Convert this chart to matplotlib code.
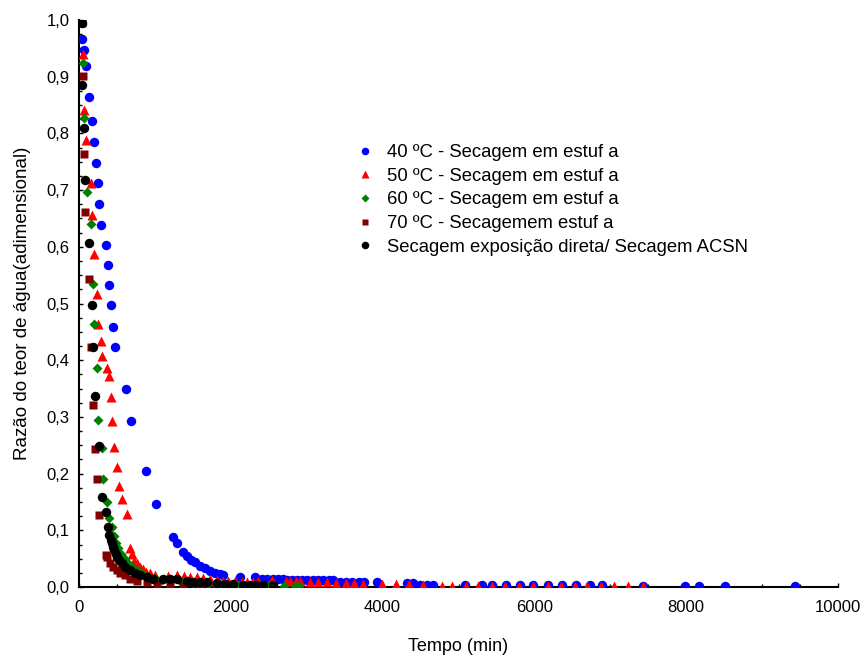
import matplotlib
matplotlib.use("Agg")
import matplotlib.pyplot as plt
from matplotlib.ticker import MultipleLocator, FuncFormatter

plt.rcParams['font.family'] = ['Liberation Sans', 'DejaVu Sans']

# Drying time (min) and moisture ratio for each drying condition
t_40 = [20, 43, 70, 88, 136, 167, 194, 220, 246, 267, 294, 352, 378, 399, 426, 452, 478,
        615, 685, 879, 1011, 1238, 1287, 1370, 1419, 1476, 1528, 1594, 1660, 1726, 1792,
        1858, 1897, 2121, 2319, 2411, 2480, 2550, 2620, 2688, 2740, 2800, 2870, 2940,
        3010, 3080, 3150, 3220, 3290, 3350, 3440, 3520, 3600, 3690, 3760, 3930, 4321,
        4400, 4493, 4580, 4664, 5086, 5306, 5438, 5626, 5810, 5982, 6175, 6360, 6548,
        6733, 6887, 7431, 7984, 8169, 8511, 9433]
mr_40 = [1.0, 0.967, 0.947, 0.918, 0.865, 0.822, 0.784, 0.748, 0.713, 0.675, 0.638, 0.603,
         0.568, 0.533, 0.497, 0.459, 0.423, 0.349, 0.293, 0.205, 0.146, 0.088, 0.078,
         0.062, 0.055, 0.048, 0.044, 0.037, 0.034, 0.028, 0.025, 0.023, 0.021, 0.018,
         0.017, 0.014, 0.014, 0.014, 0.014, 0.014, 0.012, 0.012, 0.012, 0.012, 0.012,
         0.012, 0.012, 0.012, 0.012, 0.012, 0.009, 0.009, 0.009, 0.009, 0.009, 0.009,
         0.007, 0.007, 0.004, 0.004, 0.004, 0.004, 0.0035, 0.0035, 0.0035, 0.0035,
         0.0035, 0.0035, 0.0035, 0.003, 0.003, 0.003, 0.001, 0.001, 0.001, 0.001, 0.001]

t_50 = [40, 57, 70, 96, 158, 175, 202, 233, 254, 290, 307, 365, 391, 418, 431, 465, 497,
        527, 563, 628, 672, 694, 725, 760, 804, 847, 883, 935, 1001, 1177, 1287, 1380,
        1462, 1550, 1638, 1720, 1814, 1900, 1963, 2050, 2144, 2220, 2292, 2362, 2539,
        2727, 2780, 2859, 2912, 3043, 3149, 3267, 3386, 3514, 3623, 3742, 3988, 4177,
        4348, 4532, 4779, 4910, 5099, 5257, 5437, 5613, 5797, 5982, 6175, 6350, 6535,
        6693, 6877, 7049, 7233, 7427]
mr_50 = [1.0, 0.94, 0.841, 0.788, 0.712, 0.656, 0.588, 0.516, 0.464, 0.433, 0.407, 0.386,
         0.372, 0.335, 0.293, 0.247, 0.212, 0.179, 0.155, 0.128, 0.068, 0.059, 0.046,
         0.042, 0.036, 0.032, 0.027, 0.024, 0.021, 0.019, 0.021, 0.019, 0.018, 0.017,
         0.016, 0.014, 0.012, 0.011, 0.010, 0.010, 0.009, 0.009, 0.008, 0.010, 0.012,
         0.011, 0.011, 0.010, 0.010, 0.008, 0.008, 0.008, 0.007, 0.007, 0.007, 0.006,
         0.005, 0.005, 0.005, 0.004, 0.002, 0.002, 0.002, 0.002, 0.002, 0.002, 0.002,
         0.002, 0.002, 0.002, 0.002, 0.001, 0.001, 0.001, 0.001, 0.001]

t_60 = [49, 70, 101, 154, 180, 202, 233, 254, 299, 320, 365, 399, 430, 460, 490, 520, 560,
        600, 650, 700, 760, 820, 900, 1000, 1100, 1200, 1350, 1500, 1700, 1900, 2100,
        2300, 2500, 2700, 2850, 2900]
mr_60 = [0.924, 0.828, 0.697, 0.640, 0.534, 0.464, 0.386, 0.294, 0.245, 0.190, 0.150,
         0.121, 0.105, 0.090, 0.078, 0.068, 0.058, 0.050, 0.042, 0.036, 0.030, 0.025,
         0.020, 0.016, 0.013, 0.011, 0.009, 0.007, 0.006, 0.005, 0.004, 0.003, 0.003,
         0.002, 0.002, 0.002]

t_70 = [36, 49, 66, 83, 136, 158, 188, 211, 241, 267, 352, 365, 408, 452, 497, 540, 606,
        672, 760, 892, 1024, 1199, 1374, 1594, 1800, 2000, 2200, 2400]
mr_70 = [0.995, 0.901, 0.763, 0.662, 0.543, 0.424, 0.321, 0.243, 0.190, 0.127, 0.056,
         0.053, 0.042, 0.036, 0.030, 0.025, 0.021, 0.015, 0.011, 0.008, 0.005, 0.004,
         0.002, 0.002, 0.001, 0.001, 0.001, 0.001]

t_sol = [40, 43, 62, 79, 136, 167, 188, 215, 267, 299, 352, 378, 399, 418, 431, 444, 465,
         487, 505, 527, 563, 606, 672, 738, 804, 892, 979, 1111, 1199, 1287, 1419, 1506,
         1594, 1682, 1814, 1924, 2033, 2165, 2250, 2330, 2420, 2550]
mr_sol = [0.995, 0.885, 0.809, 0.717, 0.607, 0.497, 0.424, 0.337, 0.249, 0.158, 0.132,
          0.105, 0.092, 0.083, 0.077, 0.071, 0.065, 0.059, 0.053, 0.048, 0.042, 0.036,
          0.030, 0.025, 0.021, 0.018, 0.015, 0.014, 0.014, 0.014, 0.011, 0.009, 0.009,
          0.008, 0.007, 0.005, 0.005, 0.004, 0.003, 0.003, 0.003, 0.003]

labels = ["40 ºC - Secagem em estuf a",
          "50 ºC - Secagem em estuf a",
          "60 ºC - Secagem em estuf a",
          "70 ºC - Secagemem estuf a",
          "Secagem exposição direta/ Secagem ACSN"]

fig = plt.figure(figsize=(8.67, 6.57), dpi=100)
ax = fig.add_axes([0.0911, 0.1065, 0.8755, 0.8631])

ax.plot(t_40, mr_40, 'o', color='#0000ff', ms=6.8, mec='none', label=labels[0], zorder=2)
ax.plot(t_50, mr_50, '^', color='#ff0000', ms=6.8, mec='none', label=labels[1], zorder=3)
ax.plot(t_60, mr_60, 'D', color='#008000', ms=4.8, mec='none', label=labels[2], zorder=4)
ax.plot(t_70, mr_70, 's', color='#800000', ms=5.8, mec='none', label=labels[3], zorder=5)
ax.plot(t_sol, mr_sol, 'o', color='#000000', ms=6.8, mec='none', label=labels[4], zorder=6)

ax.set_xlim(0, 10000)
ax.set_ylim(0, 1.0)
ax.xaxis.set_major_locator(MultipleLocator(2000))
ax.xaxis.set_minor_locator(MultipleLocator(500))
ax.yaxis.set_major_locator(MultipleLocator(0.1))
ax.yaxis.set_minor_locator(MultipleLocator(0.025))
ax.yaxis.set_major_formatter(FuncFormatter(lambda v, p: f"{v:.1f}".replace('.', ',')))
ax.xaxis.set_major_formatter(FuncFormatter(lambda v, p: f"{int(round(v))}"))

for side in ('top', 'right'):
    ax.spines[side].set_visible(False)
for side in ('left', 'bottom'):
    ax.spines[side].set_linewidth(1.5)
    ax.spines[side].set_zorder(1)

ax.tick_params(axis='both', which='major', direction='in', length=3, width=1,
               labelsize=12)
ax.tick_params(axis='x', which='major', pad=9)
ax.tick_params(axis='y', which='major', pad=7)
ax.tick_params(axis='both', which='minor', direction='in', length=2, width=1)

ax.set_xlabel("Tempo (min)", fontsize=13, labelpad=17)
ax.set_ylabel("Razão do teor de água(adimensional)", fontsize=13.5, labelpad=11)

ax.legend(loc='upper left', bbox_to_anchor=(0.364, 0.781), frameon=False,
          fontsize=13.3, handlelength=1.0, handletextpad=0.7, labelspacing=0.36,
          markerscale=0.8, borderaxespad=0, borderpad=0)

fig.savefig("out.png", dpi=100)
